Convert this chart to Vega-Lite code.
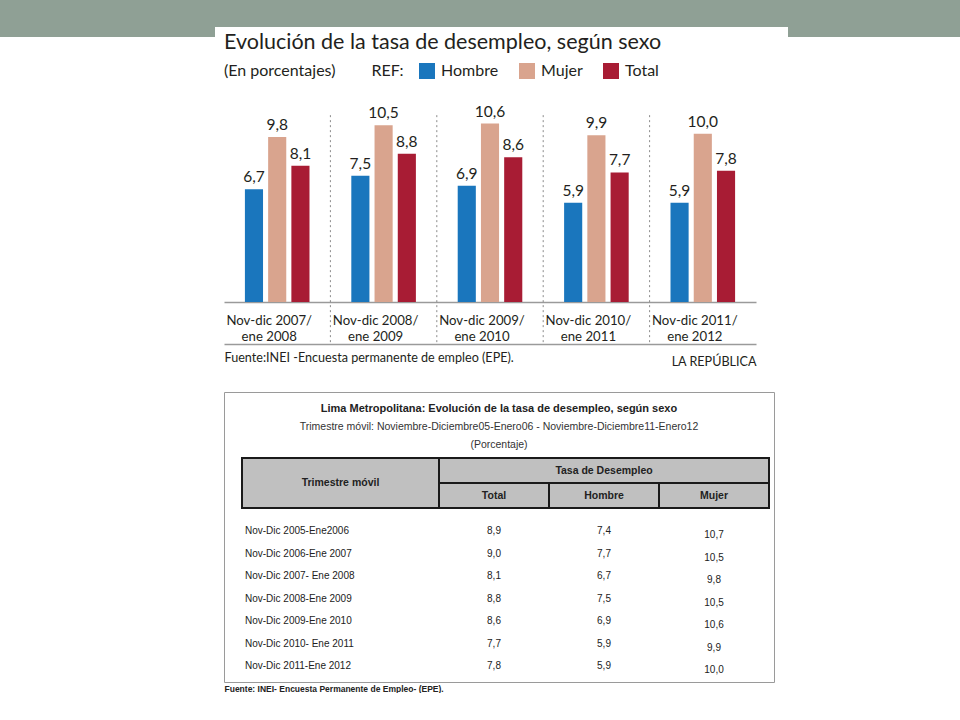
{
  "$schema": "https://vega.github.io/schema/vega-lite/v6.json",
  "padding": 0,
  "background": "white",
  "config": {
    "view": {"stroke": null},
    "font": "Lato",
    "locale": {"number": {"decimal": ",", "thousands": ".", "grouping": [3], "currency": ["", ""]}}
  },
  "datasets": {
    "barras": [
      {"periodo": "Nov-dic 2007/|ene 2008", "sexo": "Hombre", "valor": 6.7},
      {"periodo": "Nov-dic 2007/|ene 2008", "sexo": "Mujer", "valor": 9.8},
      {"periodo": "Nov-dic 2007/|ene 2008", "sexo": "Total", "valor": 8.1},
      {"periodo": "Nov-dic 2008/|ene 2009", "sexo": "Hombre", "valor": 7.5},
      {"periodo": "Nov-dic 2008/|ene 2009", "sexo": "Mujer", "valor": 10.5},
      {"periodo": "Nov-dic 2008/|ene 2009", "sexo": "Total", "valor": 8.8},
      {"periodo": "Nov-dic 2009/|ene 2010", "sexo": "Hombre", "valor": 6.9},
      {"periodo": "Nov-dic 2009/|ene 2010", "sexo": "Mujer", "valor": 10.6},
      {"periodo": "Nov-dic 2009/|ene 2010", "sexo": "Total", "valor": 8.6},
      {"periodo": "Nov-dic 2010/|ene 2011", "sexo": "Hombre", "valor": 5.9},
      {"periodo": "Nov-dic 2010/|ene 2011", "sexo": "Mujer", "valor": 9.9},
      {"periodo": "Nov-dic 2010/|ene 2011", "sexo": "Total", "valor": 7.7},
      {"periodo": "Nov-dic 2011/|ene 2012", "sexo": "Hombre", "valor": 5.9},
      {"periodo": "Nov-dic 2011/|ene 2012", "sexo": "Mujer", "valor": 10.0},
      {"periodo": "Nov-dic 2011/|ene 2012", "sexo": "Total", "valor": 7.8}
    ],
    "tabla": [
      {"trimestre": "Nov-Dic 2005-Ene2006", "Total": 8.9, "Hombre": 7.4, "Mujer": 10.7},
      {"trimestre": "Nov-Dic 2006-Ene 2007", "Total": 9.0, "Hombre": 7.7, "Mujer": 10.5},
      {"trimestre": "Nov-Dic 2007- Ene 2008", "Total": 8.1, "Hombre": 6.7, "Mujer": 9.8},
      {"trimestre": "Nov-Dic 2008-Ene 2009", "Total": 8.8, "Hombre": 7.5, "Mujer": 10.5},
      {"trimestre": "Nov-Dic 2009-Ene 2010", "Total": 8.6, "Hombre": 6.9, "Mujer": 10.6},
      {"trimestre": "Nov-Dic 2010- Ene 2011", "Total": 7.7, "Hombre": 5.9, "Mujer": 9.9},
      {"trimestre": "Nov-Dic 2011-Ene 2012", "Total": 7.8, "Hombre": 5.9, "Mujer": 10.0}
    ],
    "cab1": [{"c": "Trimestre móvil"}],
    "cab2": [{"g": "Tasa de Desempleo"}],
    "cab3": [
      {"g": "Tasa de Desempleo", "s": "Total"},
      {"g": "Tasa de Desempleo", "s": "Hombre"},
      {"g": "Tasa de Desempleo", "s": "Mujer"}
    ],
    "vacio": []
  },
  "spacing": -6,
  "resolve": {"scale": {"color": "independent"}, "legend": {"color": "independent"}},
  "vconcat": [
    {
      "spacing": 0,
      "hconcat": [
        {"width": 215, "height": 37, "view": {"fill": "#8fa095", "stroke": null}, "data": {"name": "vacio"}, "mark": {"type": "point", "opacity": 0}, "encoding": {}},
        {"width": 573, "height": 27, "view": {"fill": "#8fa095", "stroke": null}, "data": {"name": "vacio"}, "mark": {"type": "point", "opacity": 0}, "encoding": {}},
        {"width": 172, "height": 37, "view": {"fill": "#8fa095", "stroke": null}, "data": {"name": "vacio"}, "mark": {"type": "point", "opacity": 0}, "encoding": {}}
      ]
    },
    {
      "spacing": 0,
      "resolve": {"scale": {"color": "independent"}, "legend": {"color": "independent"}},
      "hconcat": [
        {"width": 223, "height": 10, "data": {"name": "vacio"}, "mark": {"type": "point", "opacity": 0}, "encoding": {}},
        {
          "spacing": 23,
          "resolve": {"scale": {"color": "independent"}, "legend": {"color": "independent"}},
          "vconcat": [
            {
              "width": 532,
              "height": 202,
              "title": {"text": "Evolución de la tasa de desempleo, según sexo", "anchor": "start", "frame": "group", "fontSize": 21.5, "fontWeight": "normal", "color": "#231f20", "font": "Lato", "offset": 10},
              "data": {"name": "barras"},
              "layer": [
                {
                  "layer": [
                    {
                      "mark": {"type": "bar"},
                      "encoding": {
                        "color": {
                          "field": "sexo", "type": "nominal",
                          "scale": {"domain": ["Hombre", "Mujer", "Total"], "range": ["#1a76bd", "#d9a48e", "#a81c34"]},
                          "legend": {
                            "orient": "top", "direction": "horizontal", "offset": 21,
                            "title": "(En porcentajes)\u2003\u2003\u2003REF:", "titleOrient": "left",
                            "titleFontSize": 16, "titleFontWeight": "normal", "titleColor": "#231f20", "titlePadding": 15,
                            "labelFontSize": 16, "labelColor": "#231f20", "labelOffset": 6,
                            "symbolType": "square", "symbolSize": 256, "symbolStrokeWidth": 0, "symbolOpacity": 1,
                            "columnPadding": 20
                          }
                        }
                      }
                    },
                    {
                      "mark": {"type": "text", "baseline": "bottom", "dy": -4, "fontSize": 15.5, "color": "#231f20"},
                      "encoding": {"text": {"field": "valor", "type": "quantitative", "format": ".1f"}}
                    }
                  ],
                  "encoding": {
                    "x": {
                      "field": "periodo", "type": "nominal", "sort": null,
                      "scale": {"paddingInner": 0, "paddingOuter": 0},
                      "axis": {
                        "orient": "bottom",
                        "title": "Fuente:INEI -Encuesta permanente de empleo (EPE).",
                        "titleAnchor": "start", "titleAlign": "left", "titleFontSize": 12.6, "titleFontWeight": "normal", "titleColor": "#231f20", "titlePadding": 9,
                        "labelExpr": "split(datum.value, '|')", "labelFontSize": 13.2, "labelColor": "#231f20", "labelPadding": 12.5, "labelLineHeight": 16, "labelOffset": -8, "labelAngle": 0,
                        "ticks": false, "grid": false, "domainColor": "#9a9a9a", "domainWidth": 1.5
                      }
                    },
                    "xOffset": {"field": "sexo", "type": "nominal", "scale": {"domain": ["Hombre", "Mujer", "Total"], "paddingInner": 0.22, "paddingOuter": 0.9}},
                    "y": {"field": "valor", "type": "quantitative", "scale": {"domain": [0, 12]}, "axis": null}
                  }
                },
                {
                  "transform": [{"filter": "datum.sexo === 'Hombre' && datum.periodo !== 'Nov-dic 2007/|ene 2008'"}],
                  "mark": {"type": "rule", "strokeDash": [2, 3], "color": "#8a8a8a", "strokeWidth": 1},
                  "encoding": {
                    "x": {
                      "field": "periodo", "type": "nominal", "bandPosition": 0,
                      "scale": {"domain": ["Nov-dic 2007/|ene 2008", "Nov-dic 2008/|ene 2009", "Nov-dic 2009/|ene 2010", "Nov-dic 2010/|ene 2011", "Nov-dic 2011/|ene 2012"], "paddingInner": 0, "paddingOuter": 0},
                      "axis": {
                        "orient": "bottom", "offset": 42, "labels": false, "ticks": false, "grid": false,
                        "domainColor": "#9a9a9a", "domainWidth": 1.5,
                        "title": "LA REPÚBLICA", "titleAnchor": "end", "titleAlign": "right", "titleFontSize": 12.6, "titleFontWeight": "normal", "titleColor": "#231f20", "titlePadding": 11
                      }
                    },
                    "y": {"datum": 11.1, "type": "quantitative"},
                    "y2": {"datum": -2.5}
                  }
                }
              ],
              "resolve": {"scale": {"x": "independent"}}
            },
            {
              "width": 550,
              "height": 290,
              "view": {"stroke": "#9a9a9a", "strokeWidth": 1, "fill": "white"},
              "title": {
                "text": "Lima Metropolitana: Evolución de la tasa de desempleo, según sexo",
                "subtitle": ["Trimestre móvil: Noviembre-Diciembre05-Enero06 - Noviembre-Diciembre11-Enero12", "(Porcentaje)"],
                "anchor": "middle", "frame": "group", "offset": -58,
                "font": "Liberation Sans", "fontSize": 11, "fontWeight": "bold", "color": "#222222",
                "subtitleFont": "Liberation Sans", "subtitleFontSize": 10.5, "subtitleColor": "#333333", "subtitlePadding": 8, "subtitleLineHeight": 18
              },
              "layer": [
                {
                  "data": {"name": "cab1"},
                  "layer": [
                    {"mark": {"type": "rect", "fill": "#c0c0c0", "stroke": "#1a1a1a", "strokeWidth": 2}},
                    {"mark": {"type": "text", "font": "Liberation Sans", "fontSize": 10.5, "fontWeight": "bold", "color": "#222222"}, "encoding": {"text": {"field": "c"}}}
                  ],
                  "encoding": {
                    "x": {"field": "c", "type": "nominal", "scale": {"type": "band", "domain": ["Trimestre móvil"], "range": [18, 215], "paddingInner": 0, "paddingOuter": 0}, "axis": null},
                    "y": {"field": "c", "type": "nominal", "scale": {"type": "band", "domain": ["Trimestre móvil"], "range": [66, 116], "paddingInner": 0, "paddingOuter": 0}, "axis": null}
                  }
                },
                {
                  "data": {"name": "cab2"},
                  "layer": [
                    {"mark": {"type": "rect", "fill": "#c0c0c0", "stroke": "#1a1a1a", "strokeWidth": 2}},
                    {"mark": {"type": "text", "font": "Liberation Sans", "fontSize": 10.5, "fontWeight": "bold", "color": "#222222"}, "encoding": {"text": {"field": "g"}}}
                  ],
                  "encoding": {
                    "x": {"field": "g", "type": "nominal", "scale": {"type": "band", "domain": ["Tasa de Desempleo"], "range": [215, 545], "paddingInner": 0, "paddingOuter": 0}, "axis": null},
                    "y": {"field": "g", "type": "nominal", "scale": {"type": "band", "domain": ["Tasa de Desempleo"], "range": [66, 91], "paddingInner": 0, "paddingOuter": 0}, "axis": null}
                  }
                },
                {
                  "data": {"name": "cab3"},
                  "layer": [
                    {"mark": {"type": "rect", "fill": "#c0c0c0", "stroke": "#1a1a1a", "strokeWidth": 2}},
                    {"mark": {"type": "text", "font": "Liberation Sans", "fontSize": 10.5, "fontWeight": "bold", "color": "#222222"}, "encoding": {"text": {"field": "s"}}}
                  ],
                  "encoding": {
                    "x": {"field": "s", "type": "nominal", "scale": {"type": "band", "domain": ["Total", "Hombre", "Mujer"], "range": [215, 545], "paddingInner": 0, "paddingOuter": 0}, "axis": null},
                    "y": {"field": "g", "type": "nominal", "scale": {"type": "band", "domain": ["Tasa de Desempleo"], "range": [91, 116], "paddingInner": 0, "paddingOuter": 0}, "axis": null}
                  }
                },
                {
                  "data": {"name": "tabla"},
                  "mark": {"type": "text", "align": "left", "dx": 3, "font": "Liberation Sans", "fontSize": 10, "color": "#222222"},
                  "encoding": {
                    "x": {"datum": "Trimestre móvil", "type": "nominal", "bandPosition": 0, "scale": {"type": "band", "domain": ["Trimestre móvil"], "range": [18, 215], "paddingInner": 0, "paddingOuter": 0}, "axis": null},
                    "y": {"field": "trimestre", "type": "nominal", "sort": null, "scale": {"type": "band", "range": [127.75, 285.25], "paddingInner": 0, "paddingOuter": 0}, "axis": null},
                    "text": {"field": "trimestre"}
                  }
                },
                {
                  "data": {"name": "tabla"},
                  "transform": [
                    {"fold": ["Total", "Hombre"], "as": ["col", "valor"]}
                  ],
                  "mark": {"type": "text", "font": "Liberation Sans", "fontSize": 10, "color": "#222222"},
                  "encoding": {
                    "x": {
                      "field": "col", "type": "nominal",
                      "scale": {"type": "band", "domain": ["Total", "Hombre", "Mujer"], "range": [215, 545], "paddingInner": 0, "paddingOuter": 0},
                      "axis": {
                        "orient": "bottom", "domain": false, "ticks": false, "labels": false, "grid": false,
                        "title": "Fuente: INEI- Encuesta Permanente de Empleo- (EPE).",
                        "titleX": 0, "titleAnchor": "start", "titleAlign": "left", "titleFont": "Liberation Sans", "titleFontSize": 8.5, "titleFontWeight": "bold", "titleColor": "#222222", "titlePadding": 2
                      }
                    },
                    "y": {"field": "trimestre", "type": "nominal", "sort": null, "scale": {"type": "band", "range": [127.75, 285.25], "paddingInner": 0, "paddingOuter": 0}, "axis": null},
                    "text": {"field": "valor", "type": "quantitative", "format": ".1f"}
                  }
                },
                {
                  "data": {"name": "tabla"},
                  "transform": [
                    {"fold": ["Mujer"], "as": ["col", "valor"]}
                  ],
                  "mark": {"type": "text", "dy": 4, "font": "Liberation Sans", "fontSize": 10, "color": "#222222"},
                  "encoding": {
                    "x": {"field": "col", "type": "nominal", "scale": {"type": "band", "domain": ["Total", "Hombre", "Mujer"], "range": [215, 545], "paddingInner": 0, "paddingOuter": 0}, "axis": null},
                    "y": {"field": "trimestre", "type": "nominal", "sort": null, "scale": {"type": "band", "range": [127.75, 285.25], "paddingInner": 0, "paddingOuter": 0}, "axis": null},
                    "text": {"field": "valor", "type": "quantitative", "format": ".1f"}
                  }
                }
              ],
              "resolve": {"scale": {"x": "independent", "y": "independent"}}
            }
          ]
        }
      ]
    }
  ]
}
